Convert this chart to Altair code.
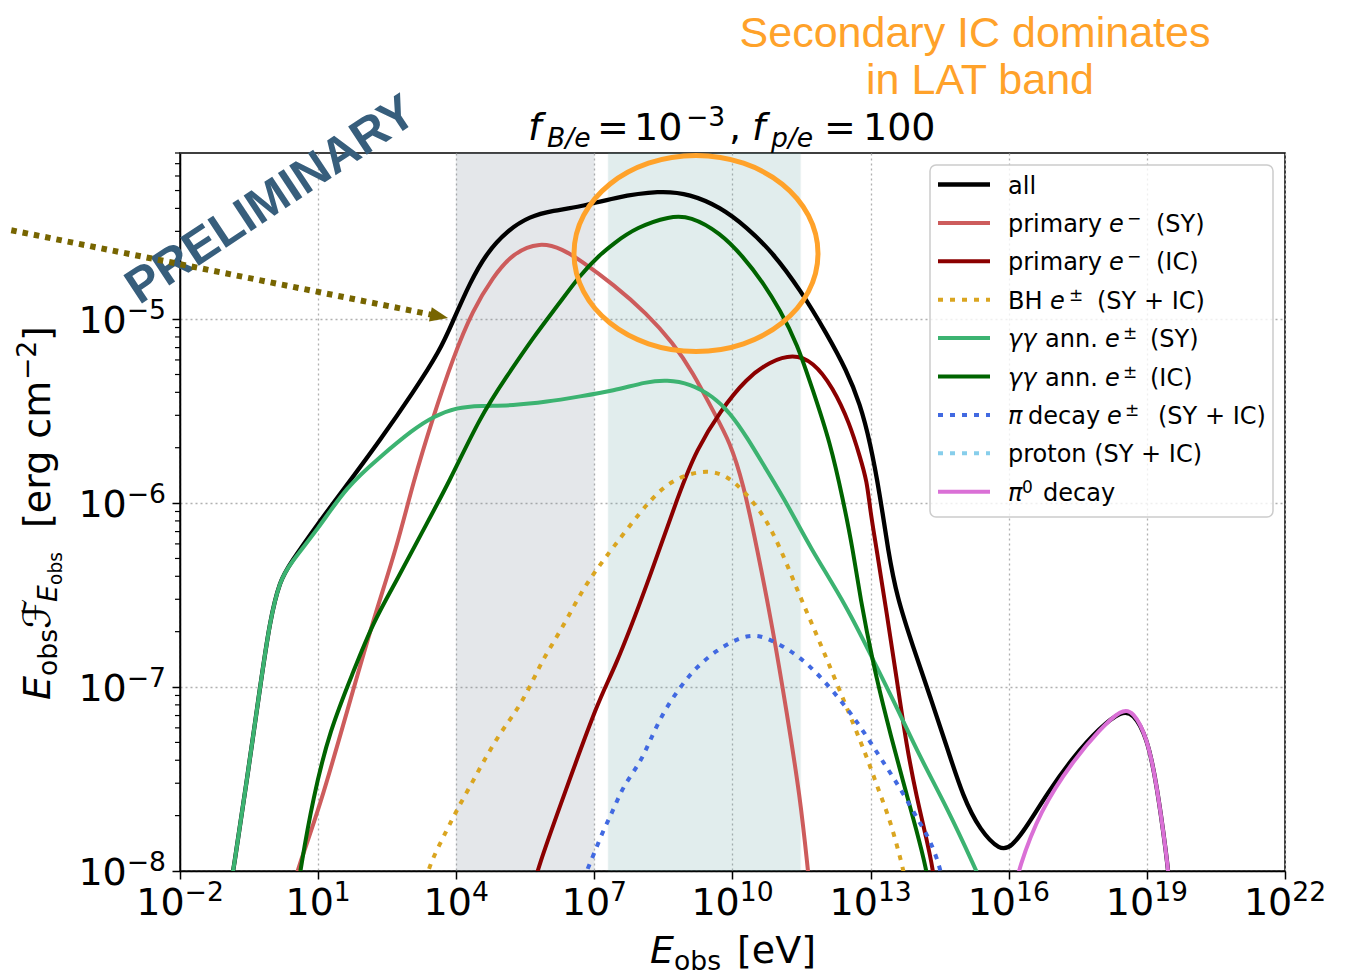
import altair as alt
import pandas as pd

# ---------------------------------------------------------------------------
# Data: log10(E_obs / eV)  and  log10(E F_E / erg cm^-2)
# ---------------------------------------------------------------------------
all_logE = [-0.96, -0.84, -0.55, -0.26, -0.05, 0.17, 0.39, 1.00, 1.69, 2.34, 3.06, 3.65, 3.93,
            4.30, 4.66, 5.10, 5.60, 6.10, 6.69, 7.41, 8.43, 9.08, 9.73, 10.31, 10.88, 11.47, 12.05,
            12.48, 12.77, 12.99, 13.20, 13.38, 13.57, 13.92, 14.29, 14.65, 15.01, 15.38, 15.81, 16.06,
            16.39, 16.83, 17.40, 17.98, 18.45, 18.70, 19.00, 19.21, 19.43, 19.48]
all_logF = [-8.16, -8.00, -7.51, -7.00, -6.64, -6.42, -6.33, -6.11, -5.88, -5.66, -5.40, -5.17, -5.01,
            -4.80, -4.64, -4.52, -4.44, -4.41, -4.39, -4.34, -4.30, -4.32, -4.39, -4.50, -4.64, -4.84, -5.08,
            -5.28, -5.46, -5.67, -5.95, -6.26, -6.51, -6.78, -7.05, -7.32, -7.60, -7.78, -7.89, -7.87,
            -7.76, -7.58, -7.38, -7.22, -7.13, -7.14, -7.27, -7.52, -7.92, -8.05]

prim_sy_logE = [0.45, 0.54, 1.04, 1.62, 2.19, 2.71, 3.06, 3.50, 3.93, 4.36, 4.80, 5.23, 5.82, 6.32,
                6.69, 7.41, 8.14, 8.71, 9.14, 9.58, 9.95, 10.23, 10.53, 10.88, 11.18, 11.47, 11.64, 11.68]
prim_sy_logF = [-8.10, -8.00, -7.65, -7.14, -6.64, -6.24, -5.89, -5.53, -5.21, -4.95, -4.77, -4.64, -4.58, -4.62,
                -4.68, -4.81, -4.97, -5.13, -5.29, -5.50, -5.67, -5.89, -6.24, -6.69, -7.14, -7.60, -8.00, -8.10]

prim_ic_logE = [5.67, 5.75, 6.32, 7.12, 7.41, 8.14, 8.86, 9.22, 9.73, 10.31, 10.82, 11.31, 11.75,
                12.18, 12.55, 12.77, 12.92, 12.99, 13.13, 13.35, 13.57, 13.78, 14.00, 14.22, 14.36, 14.40]
prim_ic_logF = [-8.10, -8.00, -7.60, -7.05, -6.92, -6.45, -5.93, -5.71, -5.50, -5.32, -5.23, -5.19, -5.23,
                -5.37, -5.57, -5.75, -5.88, -6.04, -6.25, -6.60, -6.96, -7.32, -7.60, -7.83, -8.00, -8.10]

bh_logE = [3.34, 3.43, 3.79, 4.01, 4.30, 4.58, 4.95, 5.31, 5.60, 5.88, 6.18, 6.47, 6.75, 7.05, 7.41,
           7.99, 8.49, 8.93, 9.44, 9.87, 10.23, 10.60, 10.88, 11.18, 11.47, 11.75, 12.05, 12.48, 12.77,
           12.99, 13.20, 13.42, 13.70, 13.75]
bh_logF = [-8.05, -7.96, -7.78, -7.67, -7.54, -7.41, -7.25, -7.13, -7.00, -6.85, -6.73, -6.60, -6.47, -6.36, -6.24,
           -6.05, -5.91, -5.85, -5.82, -5.85, -5.93, -6.04, -6.16, -6.33, -6.51, -6.67, -6.85, -7.11, -7.29,
           -7.43, -7.58, -7.72, -7.98, -8.05]

gg_sy_logE = [-0.96, -0.84, -0.55, -0.26, -0.05, 0.17, 0.39, 1.00, 1.62, 2.34, 3.06, 3.50, 4.01, 4.52,
              5.23, 5.97, 6.69, 7.41, 8.14, 8.57, 9.08, 9.58, 9.95, 10.31, 10.74, 11.18, 11.68, 12.48,
              13.05, 13.57, 14.07, 14.65, 15.30, 15.38]
gg_sy_logF = [-8.16, -8.00, -7.51, -7.00, -6.64, -6.42, -6.33, -6.14, -5.91, -5.75, -5.60, -5.53, -5.48, -5.47,
              -5.47, -5.45, -5.42, -5.39, -5.34, -5.33, -5.35, -5.42, -5.51, -5.64, -5.82, -6.00, -6.24, -6.56,
              -6.85, -7.11, -7.38, -7.65, -8.00, -8.05]

gg_ic_logE = [0.56, 0.61, 0.89, 1.26, 1.76, 2.19, 2.71, 3.21, 3.86, 4.52, 5.10, 5.67, 6.25, 6.69,
              7.12, 7.41, 7.92, 8.64, 9.08, 9.73, 10.23, 10.66, 11.03, 11.40, 11.75, 12.12, 12.40, 12.62,
              12.77, 13.05, 13.35, 13.70, 14.00, 14.22, 14.27]
gg_ic_logF = [-8.10, -8.00, -7.60, -7.23, -6.92, -6.65, -6.42, -6.18, -5.88, -5.53, -5.31, -5.10, -4.91, -4.76,
              -4.65, -4.59, -4.50, -4.44, -4.44, -4.53, -4.66, -4.80, -4.95, -5.13, -5.39, -5.67, -5.98, -6.26,
              -6.51, -6.87, -7.18, -7.51, -7.78, -8.00, -8.10]

pid_logE = [6.78, 6.83, 6.97, 7.19, 7.41, 7.62, 8.00, 8.21, 8.49, 8.86, 9.22, 9.66, 10.01, 10.31,
            10.60, 10.88, 11.25, 11.61, 11.97, 12.34, 12.62, 12.92, 13.20, 13.49, 13.78, 14.07, 14.29, 14.51, 14.55]
pid_logF = [-8.05, -8.00, -7.92, -7.78, -7.67, -7.54, -7.41, -7.29, -7.14, -7.00, -6.89, -6.80, -6.75, -6.72,
            -6.72, -6.75, -6.80, -6.87, -6.96, -7.07, -7.16, -7.27, -7.38, -7.49, -7.61, -7.74, -7.83, -7.98, -8.05]

proton_logE = []   # below the plotted range (legend entry only)
proton_logF = []

pi0_logE = [16.14, 16.20, 16.68, 17.40, 17.98, 18.45, 18.70, 19.00, 19.21, 19.43, 19.48]
pi0_logF = [-8.10, -8.00, -7.67, -7.40, -7.23, -7.12, -7.13, -7.27, -7.52, -7.92, -8.05]

series_names = ["all", "primary e- (SY)", "primary e- (IC)", "BH e± (SY + IC)", "γγ ann. e± (SY)",
                "γγ ann. e± (IC)", "π decay e± (SY + IC)", "proton (SY + IC)", "π0 decay"]
series_logE = [all_logE, prim_sy_logE, prim_ic_logE, bh_logE, gg_sy_logE, gg_ic_logE, pid_logE, proton_logE, pi0_logE]
series_logF = [all_logF, prim_sy_logF, prim_ic_logF, bh_logF, gg_sy_logF, gg_ic_logF, pid_logF, proton_logF, pi0_logF]
series_colors = ["#000000", "#cd5c5c", "#8b0000", "#daa520", "#3cb371", "#006400", "#4169e1", "#87ceeb", "#da70d6"]
series_dotted = [False, False, False, True, False, False, True, True, False]

# instrument bands (eV)
band_lo = [1e4, 2e7]
band_hi = [1e7, 3e11]
band_colors = ["#708090", "#5f9ea0"]

x_tick_exps = [-2, 1, 4, 7, 10, 13, 16, 19, 22]
y_tick_exps = [-8, -7, -6, -5]
y_minor_mult = [2, 3, 4, 5, 6, 7, 8, 9]

# ---------------------------------------------------------------------------
W, H = 1105, 718
OX, OY = 180, 153          # page position of the plot origin
FONT = "DejaVu Sans"
ORANGE = "#ffa22a"
OLIVE = "#776500"
SLATE = "#375e7c"

xs = alt.Scale(type="log", domain=[1e-2, 1e22], nice=False)
ys = alt.Scale(type="log", domain=[1e-8, 8e-5], nice=False)

common_axis = dict(labels=False, title=None, grid=True, gridDash=[2, 3], gridColor="#b0b0b0",
                   gridWidth=1.3, ticks=True, tickSize=8, tickWidth=1.5, tickColor="black",
                   domain=True, domainColor="black", domainWidth=1.5)
xaxis = alt.Axis(values=[10.0 ** e for e in x_tick_exps], **common_axis)
yaxis = alt.Axis(values=[10.0 ** e for e in y_tick_exps], **common_axis)
XE = alt.X("E:Q", scale=xs, axis=xaxis)
YF = alt.Y("F:Q", scale=ys, axis=yaxis)

one = pd.DataFrame({"k": [0]})
layers = []

# bands
bands = pd.DataFrame({"E": band_lo, "E2": band_hi, "c": band_colors})
for i in range(len(band_lo)):
    layers.append(
        alt.Chart(bands.iloc[[i]]).mark_rect(color=band_colors[i], opacity=0.18,
                                             stroke=band_colors[i], strokeOpacity=0.25, strokeWidth=1.5)
        .encode(x=XE, x2="E2:Q", y=alt.value(0), y2=alt.value(H))
    )

# minor y ticks
minor_vals = [m * 10.0 ** e for e in range(-8, -4) for m in y_minor_mult if m * 10.0 ** e <= 8e-5]
layers.append(
    alt.Chart(pd.DataFrame({"F": minor_vals})).mark_rule(color="black", strokeWidth=1.2)
    .encode(y=YF, x=alt.value(-5), x2=alt.value(0))
)

# curves
for name, le, lf, col, dot in zip(series_names, series_logE, series_logF, series_colors, series_dotted):
    if not le:
        continue
    assert len(le) == len(lf), name
    df = pd.DataFrame({"E": [10.0 ** v for v in le], "F": [10.0 ** v for v in lf], "i": range(len(le))})
    kw = dict(color=col, strokeWidth=4.3 if name == "all" else 4, interpolate="basis", clip=True)
    if dot:
        kw["strokeDash"] = [5, 7]
    layers.append(alt.Chart(df).mark_line(**kw).encode(x=XE, y=YF, order="i:Q"))

# tick labels (drawn with the axis scales): "10" + superscript exponent
DIG = 0.636
def sup_text(e):
    return ("\u2212" if e < 0 else "") + str(abs(e))
def sup_width(e, size):
    return (0.838 if e < 0 else 0) * size + DIG * len(str(abs(e))) * size

TS, SS = 38, 26.6
groups = {}
for e in x_tick_exps:
    shift = round((2 * DIG * TS - sup_width(e, SS)) / 2, 1)
    groups.setdefault(shift, []).append(e)
for shift, exps in groups.items():
    d = pd.DataFrame({"E": [10.0 ** e for e in exps], "b": ["10"] * len(exps), "s": [sup_text(e) for e in exps]})
    layers.append(alt.Chart(d).mark_text(font=FONT, fontSize=TS, align="right", baseline="alphabetic", dx=shift)
                  .encode(x=XE, y=alt.value(H + 44), text="b:N"))
    layers.append(alt.Chart(d).mark_text(font=FONT, fontSize=SS, align="left", baseline="alphabetic", dx=shift)
                  .encode(x=XE, y=alt.value(H + 30), text="s:N"))

wy = sup_width(-5, SS)
dy_lab = pd.DataFrame({"F": [10.0 ** e for e in y_tick_exps], "b": ["10"] * len(y_tick_exps),
                       "s": [sup_text(e) for e in y_tick_exps]})
layers.append(alt.Chart(dy_lab).mark_text(font=FONT, fontSize=TS, align="right", baseline="alphabetic", dy=14)
              .encode(y=YF, x=alt.value(-14 - wy), text="b:N"))
layers.append(alt.Chart(dy_lab).mark_text(font=FONT, fontSize=SS, align="left", baseline="alphabetic", dy=0)
              .encode(y=YF, x=alt.value(-14 - wy), text="s:N"))


def ann(s, xp, yp, size, italic=False, bold=False, color="black", font=FONT, align="left",
        baseline="alphabetic", angle=0):
    kw = dict(text=s, fontSize=size, font=font, color=color, align=align, baseline=baseline,
              fontStyle="italic" if italic else "normal", fontWeight="bold" if bold else "normal")
    if angle:
        kw["angle"] = angle
    return alt.Chart(one).mark_text(**kw).encode(x=alt.value(xp - OX), y=alt.value(yp - OY))


# legend
layers.append(alt.Chart(one).mark_rect(fill="white", fillOpacity=0.8, stroke="#cccccc", strokeWidth=1.5,
                                       cornerRadius=6)
              .encode(x=alt.value(930 - OX), x2=alt.value(1273 - OX), y=alt.value(165 - OY), y2=alt.value(517 - OY)))
legend_pieces = [
    [("all", 1008, "n")],
    [("primary", 1008, "n"), ("e", 1109, "i"), ("\u2212", 1127, "s"), ("(SY)", 1156, "n")],
    [("primary", 1008, "n"), ("e", 1109, "i"), ("\u2212", 1127, "s"), ("(IC)", 1156, "n")],
    [("BH", 1008, "n"), ("e", 1050, "i"), ("±", 1069, "s"), ("(SY + IC)", 1097, "n")],
    [("γγ", 1008, "i"), ("ann.", 1045, "n"), ("e", 1105, "i"), ("±", 1123, "s"), ("(SY)", 1150, "n")],
    [("γγ", 1008, "i"), ("ann.", 1045, "n"), ("e", 1105, "i"), ("±", 1123, "s"), ("(IC)", 1150, "n")],
    [("π", 1008, "i"), ("decay", 1028, "n"), ("e", 1107, "i"), ("±", 1125, "s"), ("(SY + IC)", 1158, "n")],
    [("proton (SY + IC)", 1008, "n")],
    [("π", 1008, "i"), ("0", 1022, "s"), ("decay", 1043, "n")],
]
for i, (col, dot, pieces) in enumerate(zip(series_colors, series_dotted, legend_pieces)):
    ry = 184.5 + 38.4 * i
    kw = dict(color=col, strokeWidth=4.3 if i == 0 else 4, strokeCap="butt")
    if dot:
        kw["strokeDash"] = [5, 7]
    layers.append(alt.Chart(one).mark_rule(**kw).encode(
        x=alt.value(938 - OX), x2=alt.value(990 - OX), y=alt.value(ry - OY), y2=alt.value(ry - OY)))
    for t, xp, st in pieces:
        if st == "s":
            layers.append(ann(t, xp, ry + 1, 17))
        else:
            layers.append(ann(t, xp, ry + 9, 24, italic=(st == "i")))

# highlight ellipse and orange note
ellipse = "M -1 0 A 1 0.803 0 1 0 1 0 A 1 0.803 0 1 0 -1 0 Z"
layers.append(alt.Chart(one).mark_point(shape=ellipse, size=244 ** 2, filled=False, color=ORANGE,
                                        strokeWidth=5, opacity=1)
              .encode(x=alt.value(696 - OX), y=alt.value(253.5 - OY)))
layers.append(ann("Secondary IC dominates", 975, 47, 43, color=ORANGE, font="Liberation Sans", align="center"))
layers.append(ann("in LAT band", 980, 94, 43, color=ORANGE, font="Liberation Sans", align="center"))

# PRELIMINARY + arrow
layers.append(ann("PRELIMINARY", 271, 200, 49, bold=True, color=SLATE, font="Liberation Sans",
                  align="center", baseline="middle", angle=326.5))
layers.append(alt.Chart(one).mark_rule(color=OLIVE, strokeWidth=6, strokeDash=[5.5, 6], strokeCap="butt")
              .encode(x=alt.value(0 - OX), y=alt.value(228 - OY), x2=alt.value(431 - OX), y2=alt.value(314.6 - OY)))
layers.append(alt.Chart(one).mark_point(shape="M 1 0 L -1 -0.8 L -1 0.8 Z", size=324, filled=True, color=OLIVE,
                                        angle=11.4, opacity=1)
              .encode(x=alt.value(439.2 - OX), y=alt.value(316.2 - OY)))

# title: f_{B/e} = 10^{-3}, f_{p/e} = 100
for t, xp, yp, sz, it in [("f", 528, 140, 38, True), ("B/e", 547, 147, 26.6, True), ("=", 597, 140, 38, False),
                          ("10", 634, 140, 38, False), ("\u22123", 686, 126, 26.6, False), (",", 729, 140, 38, False),
                          ("f", 752, 140, 38, True), ("p/e", 771, 147, 26.6, True), ("=", 824, 140, 38, False),
                          ("100", 863, 140, 38, False)]:
    layers.append(ann(t, xp, yp, sz, italic=it))

# x axis title
for t, xp, yp, sz, it in [("E", 650, 963, 38, True), ("obs", 674, 970, 26.6, False), ("[eV]", 737, 963, 38, False)]:
    layers.append(ann(t, xp, yp, sz, italic=it))

# y axis title (rotated)
for t, xp, yp, sz, it in [("E", 50, 700, 38, True), ("obs", 57, 676, 26.6, False), ("\u2131", 50, 629, 38, False),
                          ("E", 57, 602, 26.6, True), ("obs", 62, 585, 18.6, False), ("[erg cm", 50, 528, 38, False),
                          ("\u22122", 36, 380, 26.6, False), ("]", 50, 341, 38, False)]:
    layers.append(ann(t, xp, yp, sz, italic=it, angle=270))

chart = alt.layer(*layers).properties(
    width=W, height=H,
    autosize=alt.AutoSizeParams(type="none"),
    padding={"left": 172, "top": 145, "right": 60, "bottom": 104},
    background="white",
).configure_view(stroke="black", strokeWidth=1.5)

chart.save("out.html", embed_options={"renderer": "svg", "actions": False})
